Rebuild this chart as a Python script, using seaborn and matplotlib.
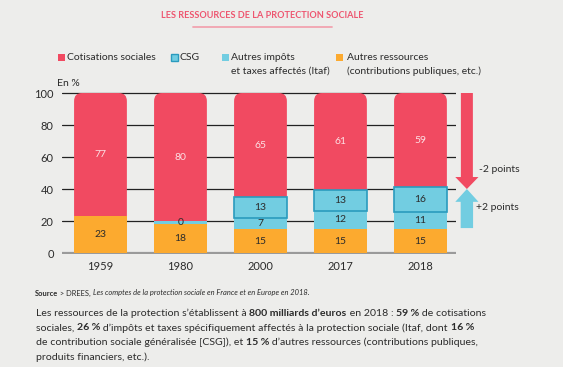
import matplotlib
matplotlib.use("Agg")
import matplotlib.pyplot as plt
import seaborn as sns
import pandas as pd
import numpy as np
from matplotlib.patches import FancyBboxPatch, FancyArrow, Rectangle
from matplotlib.lines import Line2D

# ---------------- data (estimated unrounded shares, %) ----------------
years = ["1959", "1980", "2000", "2017", "2018"]
cotisations = [77, 80, 65, 60.8, 59]
csg = [0, 0, 13, 12.7, 15.5]
itaf = [0, 2, 7, 11.7, 10.7]
autres = [23, 18, 15, 14.8, 14.8]
cotisations_labels = ["77", "80", "65", "61", "59"]
csg_labels = ["", "", "13", "13", "16"]
itaf_labels = ["", "0", "7", "12", "11"]
autres_labels = ["23", "18", "15", "15", "15"]
yticks = [0, 20, 40, 60, 80, 100]

# ---------------- style ----------------
BG = "#EDEDEB"
RED = "#F14A61"
CYAN = "#72CDE1"
CSG_EDGE = "#2A9BBE"
ORANGE = "#FCAA2F"
TXT = "#2B2B2B"

sns.set_theme(style="white")
plt.rcParams['font.family'] = ['Lato', 'DejaVu Sans']

W, H = 563, 367
fig = plt.figure(figsize=(W / 100, H / 100), dpi=100, facecolor=BG)

def fx(x):
    return x / W

def fy(y):
    return 1 - y / H

ax = fig.add_axes([fx(62), fy(254.0), fx(456) - fx(62), fy(90.6) - fy(254.0)])
ax.set_facecolor(BG)

df = pd.DataFrame({"year": years, "cotisations": cotisations, "csg": csg,
                   "itaf": itaf, "autres": autres})
b_itaf = np.array(autres)
b_csg = b_itaf + np.array(itaf)
b_cot = b_csg + np.array(csg)

common = dict(x="year", order=years, width=0.66, saturation=1, ax=ax, zorder=3)

sns.barplot(data=df, y="autres", color=ORANGE, linewidth=0, **common)
sns.barplot(data=df, y="itaf", color=CYAN, linewidth=0, bottom=b_itaf, **common)
sns.barplot(data=df, y="csg", color=CYAN, edgecolor=CSG_EDGE, linewidth=1.2,
            bottom=b_csg, **common)
csg_cont = ax.containers[-1]
for p in csg_cont.patches:
    if p.get_height() <= 0:
        p.set_visible(False)
    else:
        p.set_zorder(4)
sns.barplot(data=df, y="cotisations", color=RED, linewidth=0, bottom=b_cot, **common)
red_cont = ax.containers[-1]

# rounded top corners for the red bars
for p in red_cont.patches:
    x0, y0, w, h = p.get_x(), p.get_y(), p.get_width(), p.get_height()
    clip = FancyBboxPatch((x0, y0 - 20), w, h + 20,
                          boxstyle="round,pad=0,rounding_size=0.1",
                          mutation_aspect=50, transform=ax.transData)
    p.set_clip_path(clip)

# labels in segments
for i in range(len(years)):
    ax.text(i, autres[i] / 2, autres_labels[i], ha="center", va="center",
            fontsize=7.5, color=TXT, zorder=6)
    if itaf_labels[i]:
        ax.text(i, b_itaf[i] + itaf[i] / 2, itaf_labels[i], ha="center",
                va="center", fontsize=7.5, color=TXT, zorder=6)
    if csg_labels[i]:
        ax.text(i, b_csg[i] + csg[i] / 2, csg_labels[i], ha="center",
                va="center", fontsize=7.5, color=TXT, zorder=6)
    ax.text(i, b_cot[i] + cotisations[i] / 2, cotisations_labels[i], ha="center",
            va="center", fontsize=7.5, color="#FCE0E4", zorder=6)

ax.set_xlim(-0.481, 4.444)
ax.set_ylim(-0.6, 101.5)
ax.set_yticks(yticks)
ax.set_yticklabels([str(t) for t in yticks])
ax.set_xlabel("")
ax.set_ylabel("")
for s in ax.spines.values():
    s.set_visible(False)
ax.tick_params(axis="both", length=0, labelsize=8, colors=TXT)
ax.tick_params(axis="y", pad=6)
ax.tick_params(axis="x", pad=5)
ax.yaxis.grid(True, color="#222222", linewidth=0.9, zorder=0)
ax.set_axisbelow(True)
gl = ax.get_ygridlines()
gl[0].set_color("#9A9A9A")
gl[0].set_linewidth(1.6)

# arrows
ax.add_patch(FancyArrow(4.58, 100, 0, -60, width=0.15, head_width=0.29,
                        head_length=7.5, length_includes_head=True, color=RED,
                        linewidth=0, clip_on=False, zorder=5))
ax.add_patch(FancyArrow(4.58, 15.6, 0, 24.4, width=0.155, head_width=0.29,
                        head_length=8, length_includes_head=True, color=CYAN,
                        linewidth=0, clip_on=False, zorder=5))
ax.text(4.73, 52, "-2 points", ha="left", va="center", fontsize=7.5, color=TXT,
        clip_on=False)
ax.text(4.69, 28.5, "+2 points", ha="left", va="center", fontsize=7.5, color=TXT,
        clip_on=False)

# "En %"
fig.text(fx(57), fy(83), "En %", ha="left", va="center", fontsize=7.5, color=TXT)

# title
fig.text(fx(262), fy(15), "LES RESSOURCES DE LA PROTECTION SOCIALE", ha="center",
         va="center", fontsize=6.6, fontweight="bold", color="#EE5670")
fig.add_artist(Line2D([fx(193), fx(332)], [fy(27), fy(27)], color="#F2A3B0",
                      linewidth=1.3))

# legend
def square(x, y, color, edge=None):
    fig.add_artist(Rectangle((fx(x), fy(y + 7)), 7 / W, 7 / H,
                             transform=fig.transFigure, facecolor=color,
                             edgecolor=edge if edge else color,
                             linewidth=1.0 if edge else 0))

square(58, 54, RED)
fig.text(fx(67), fy(57.5), "Cotisations sociales", va="center", fontsize=7.5, color=TXT)
square(171, 54, CYAN, CSG_EDGE)
fig.text(fx(180), fy(57.5), "CSG", va="center", fontsize=7.5, color=TXT)
square(222, 54, CYAN)
fig.text(fx(231), fy(57.5), "Autres impôts", va="center", fontsize=7.5, color=TXT)
fig.text(fx(231), fy(71.5), "et taxes affectés (Itaf)", va="center", fontsize=7.5, color=TXT)
square(336, 54, ORANGE)
fig.text(fx(347), fy(57.5), "Autres ressources", va="center", fontsize=7.5, color=TXT)
fig.text(fx(347), fy(71.5), "(contributions publiques, etc.)", va="center", fontsize=7.5,
         color=TXT)

# rich text helper
renderer = fig.canvas.get_renderer()

def text_width(s, **kw):
    t1 = fig.text(0, 0, s + "|", **kw)
    t2 = fig.text(0, 0, "|", **kw)
    w = t1.get_window_extent(renderer).width - t2.get_window_extent(renderer).width
    t1.remove()
    t2.remove()
    return w

def rich(x, y, runs, size, color=TXT):
    cx = x
    for s, weight, style in runs:
        kw = dict(fontsize=size, fontweight=weight, fontstyle=style, color=color)
        fig.text(fx(cx), fy(y), s, ha="left", va="center", **kw)
        cx += text_width(s, **kw)

n, b = "normal", "bold"
rich(35, 293, [("Source", b, n), (" > DREES, ", n, n),
               ("Les comptes de la protection sociale en France et en Europe en 2018.", n, "italic")],
     5.4)

lines = [
    [("Les ressources de la protection s’établissent à ", n, n), ("800 milliards d’euros", b, n),
     (" en 2018 : ", n, n), ("59 %", b, n), (" de cotisations", n, n)],
    [("sociales, ", n, n), ("26 %", b, n),
     (" d’impôts et taxes spécifiquement affectés à la protection sociale (Itaf, dont ", n, n),
     ("16 %", b, n)],
    [("de contribution sociale généralisée [CSG]), et ", n, n), ("15 %", b, n),
     (" d’autres ressources (contributions publiques,", n, n)],
    [("produits financiers, etc.).", n, n)],
]
for k, ln in enumerate(lines):
    rich(36, 313.5 + k * 14.5, ln, 7.55)

fig.savefig("out.png", dpi=100, facecolor=BG)
